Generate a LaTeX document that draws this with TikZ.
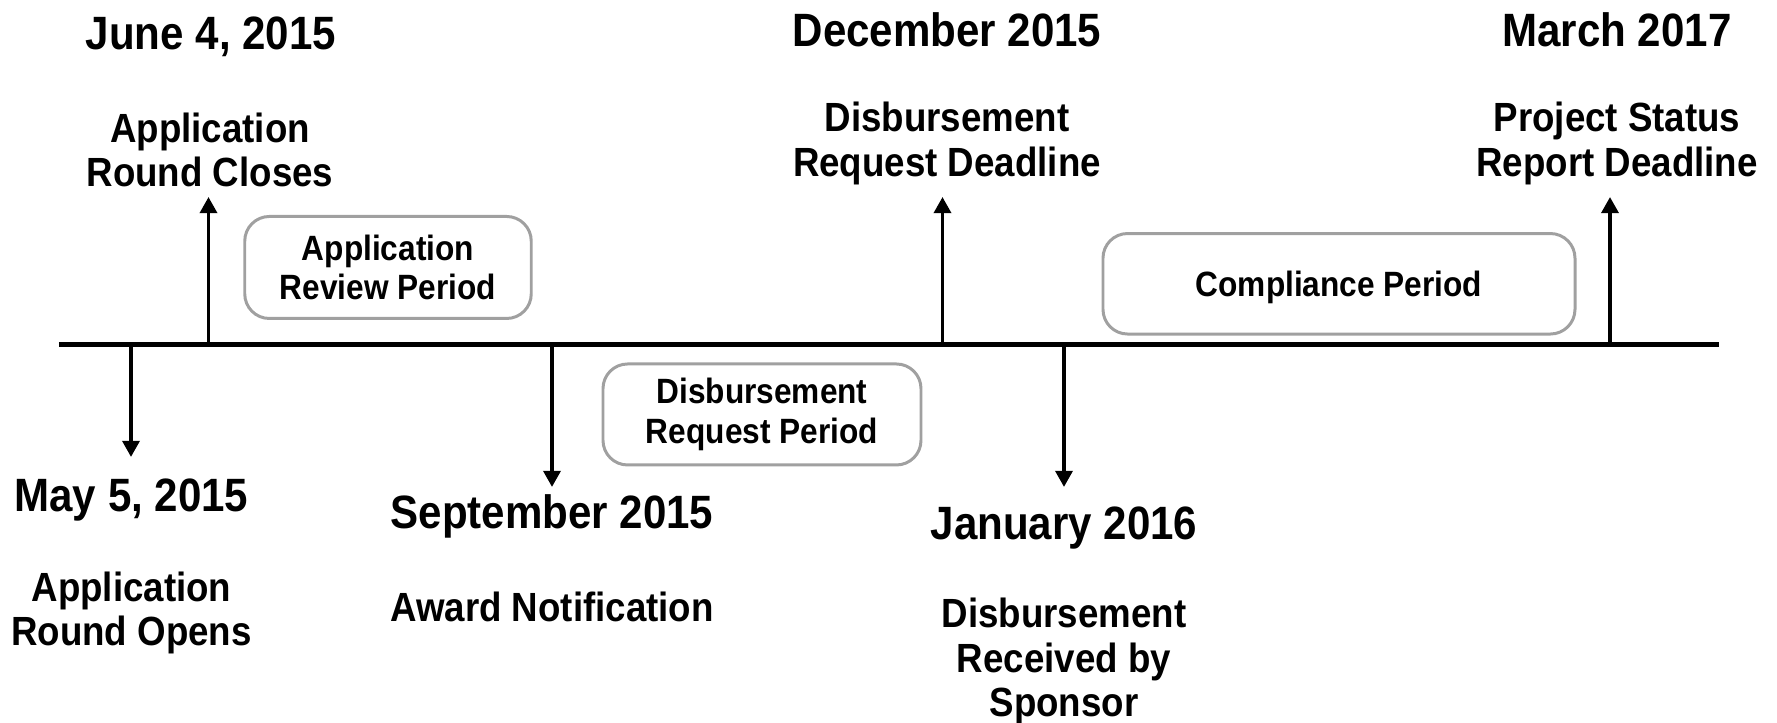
\documentclass[tikz,border=0pt]{standalone}
\usepackage{fontspec}
\setmainfont{Liberation Sans}[FakeStretch=0.9]
\usetikzlibrary{arrows.meta}
\definecolor{boxgray}{RGB}{160,160,160}

\begin{document}
\begin{tikzpicture}[>={Triangle[width=4.8pt,length=4.6pt]},
	date/.style={font=\bfseries\fontsize{13.3}{14}\selectfont, inner sep=0pt},
	event/.style={align=center, font=\bfseries\fontsize{11.6}{12.7}\selectfont, inner sep=0pt},
	period/.style={draw=boxgray, line width=0.85pt, rounded corners=7pt, align=center,
		font=\bfseries\fontsize{10}{11.3}\selectfont},
	evarrow/.style={->, line width=1.1pt}]
\useasboundingbox (0,0) rectangle (17.77,7.23);

% the time line
\coordinate (start) at (0.59,3.785);
\coordinate (end) at (17.19,3.785);
\draw[line width=1.3pt] (start) -- (end);

\coordinate (opens) at (1.31,3.785);
\coordinate (closes) at (2.085,3.785);
\coordinate (award) at (5.52,3.785);
\coordinate (reqdl) at (9.425,3.785);
\coordinate (recvd) at (10.64,3.785);
\coordinate (report) at (16.10,3.785);
% arrow tips
\coordinate (opens tip) at (1.31,2.66);
\coordinate (closes tip) at (2.085,5.26);
\coordinate (award tip) at (5.52,2.36);
\coordinate (reqdl tip) at (9.425,5.26);
\coordinate (recvd tip) at (10.64,2.36);
\coordinate (report tip) at (16.10,5.26);

% above the line
\node[date] at (2.11,6.86) (closesdate) {June 4, 2015};
\node[event] at (2.10,5.73) (closeslbl) {Application\\Round Closes};
\node[date] at (9.47,6.93) (reqdldate) {December 2015};
\node[event] at (9.47,5.795) (reqdllbl) {Disbursement\\Request Deadline};
\node[date] at (16.17,6.93) (reportdate) {March 2017};
\node[event] at (16.17,5.795) (reportlbl) {Project Status\\Report Deadline};

% below the line
\node[date] at (1.315,2.225) (opensdate) {May 5, 2015};
\node[event] at (1.315,1.10) (openslbl) {Application\\Round Opens};
\node[date] at (5.52,2.07) (awarddate) {September 2015};
\node[event] at (5.52,1.16) (awardlbl) {Award Notification};
\node[date] at (10.64,1.95) (recvddate) {January 2016};
\node[event] at (10.64,0.615) (recvdlbl) {Disbursement\\Received by\\Sponsor};

% periods
\node[period, minimum width=2.865cm, minimum height=1.02cm] at (3.88,4.555) (review) {Application\\Review Period};
\node[period, minimum width=3.18cm, minimum height=1.01cm] at (7.62,3.085) (request) {Disbursement\\Request Period};
\node[period, minimum width=4.72cm, minimum height=1.005cm, text height=7.2pt, text depth=0pt] at (13.39,4.392) (compliance) {Compliance Period};

\draw[evarrow] (closes) -- (closes tip);
\draw[evarrow] (reqdl) -- (reqdl tip);
\draw[evarrow] (report) -- (report tip);
\draw[evarrow] (opens) -- (opens tip);
\draw[evarrow] (award) -- (award tip);
\draw[evarrow] (recvd) -- (recvd tip);
\end{tikzpicture}
\end{document}
